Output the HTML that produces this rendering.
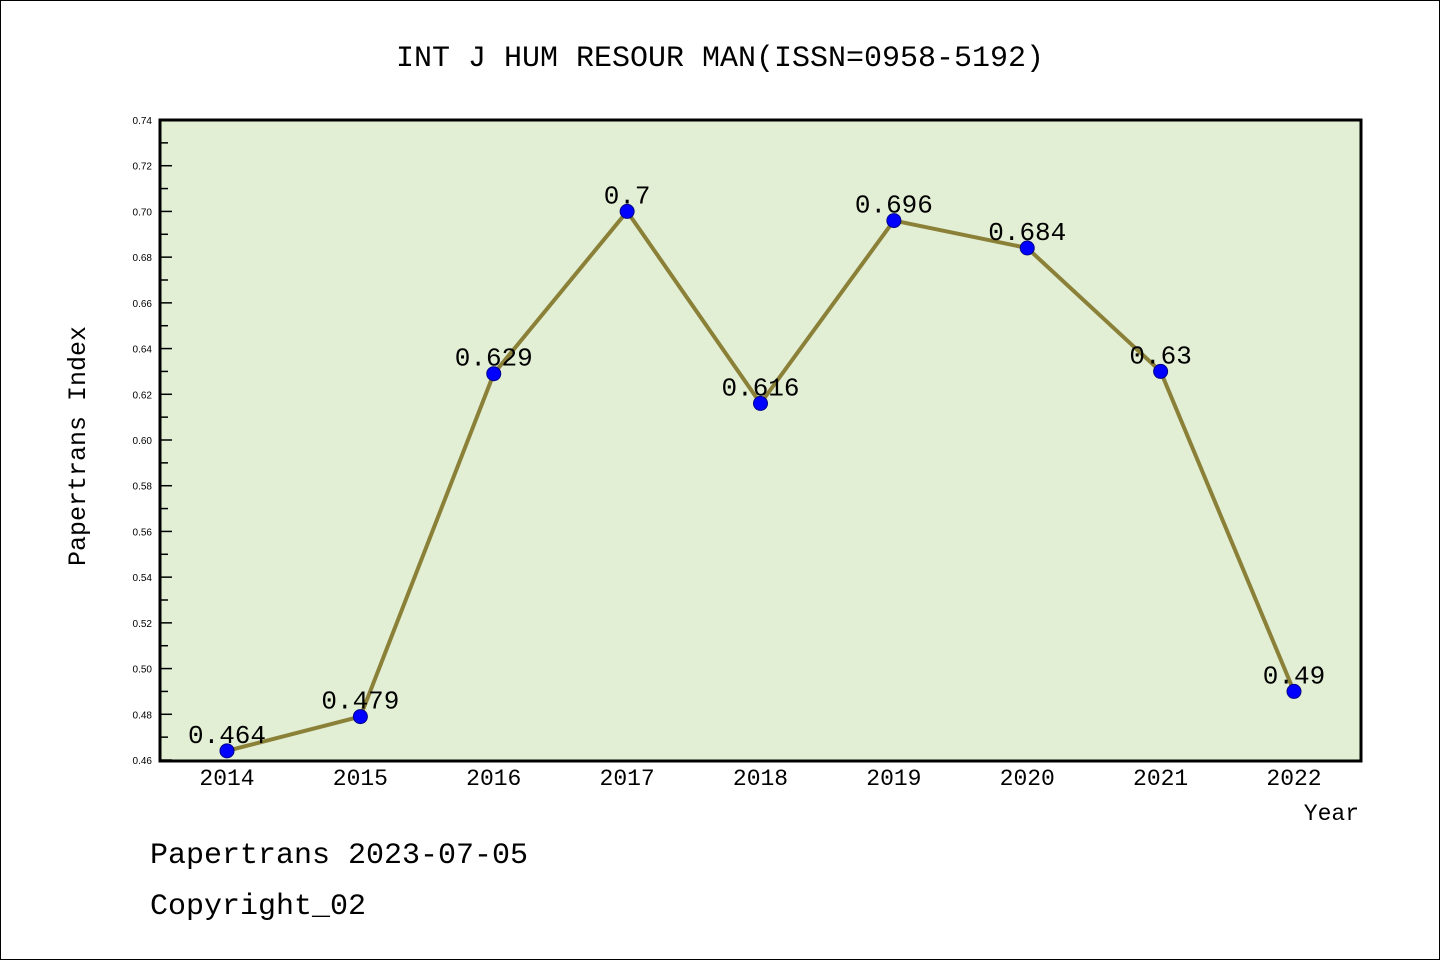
<!DOCTYPE html>
<html><head><meta charset="utf-8"><style>
html,body{margin:0;padding:0;background:#fff;}
svg{display:block;}
</style></head><body>
<svg id="chart" width="1440" height="960" xmlns="http://www.w3.org/2000/svg">
<rect x="0.5" y="0.5" width="1439" height="959" fill="#fff" stroke="#000" stroke-width="1"/>
<text x="720" y="66" text-anchor="middle" font-family="'Liberation Mono','WenQuanYi Zen Hei',monospace" font-size="30" fill="#000">INT J HUM RESOUR MAN(ISSN=0958-5192)</text>
<rect x="160" y="120" width="1201" height="641" fill="#e2efd4"/>
<g id="yaxis"></g>
<g id="xaxis"></g>
<g id="series"></g>
<rect x="160" y="120" width="1201" height="641" fill="none" stroke="#000" stroke-width="3"/>
<text transform="translate(85,446) rotate(-90)" text-anchor="middle" font-family="'Liberation Mono','WenQuanYi Zen Hei',monospace" font-size="25" fill="#000">Papertrans Index</text>
<text x="1359" y="820" text-anchor="end" font-family="'Liberation Mono','WenQuanYi Zen Hei',monospace" font-size="23" fill="#000">Year</text>
<text x="150" y="863" font-family="'Liberation Mono','WenQuanYi Zen Hei',monospace" font-size="30" fill="#000">Papertrans 2023-07-05</text>
<text x="150" y="914" font-family="'Liberation Mono','WenQuanYi Zen Hei',monospace" font-size="30" fill="#000">Copyright_02</text>
</svg>
<script>
const years = ['2014','2015','2016','2017','2018','2019','2020','2021','2022'];
const values = [0.464,0.479,0.629,0.7,0.616,0.696,0.684,0.63,0.49];
const valueLabels = ['0.464','0.479','0.629','0.7','0.616','0.696','0.684','0.63','0.49'];
const yTicks = ['0.46','0.48','0.50','0.52','0.54','0.56','0.58','0.60','0.62','0.64','0.66','0.68','0.70','0.72','0.74'];

const NS='http://www.w3.org/2000/svg';
const yMin=0.46,yMax=0.74,plotTop=120,plotBottom=760;
function yScale(v){return plotBottom-(v-yMin)/(yMax-yMin)*(plotBottom-plotTop);}
function xScale(i){return 227+i*(1294-227)/(years.length-1);}
function mk(tag,attrs,parent){const e=document.createElementNS(NS,tag);for(const k in attrs)e.setAttribute(k,attrs[k]);parent.appendChild(e);return e;}

const ya=document.getElementById('yaxis');
yTicks.forEach((t,i)=>{
  const v=parseFloat(t),y=yScale(v);
  const l=mk('line',{x1:160,x2:172,y1:y,y2:y,stroke:'#000','stroke-width':1.5},ya);
  
  
  const tx=mk('text',{x:152,y:y+4,'text-anchor':'end','font-family':"'Liberation Sans',sans-serif",'font-size':10,fill:'#000'},ya);
  tx.textContent=t;
  
  
  if(i<yTicks.length-1){
    const ym=yScale(v+0.01);
    const m=mk('line',{x1:160,x2:168,y1:ym,y2:ym,stroke:'#000','stroke-width':1.5},ya);
    
    
  }
});
const xa=document.getElementById('xaxis');
years.forEach((yr,i)=>{
  const tx=mk('text',{x:xScale(i),y:785,'text-anchor':'middle','font-family':"'Liberation Mono','WenQuanYi Zen Hei',monospace",'font-size':23,fill:'#000'},xa);
  tx.textContent=yr;
  
  
});
const s=document.getElementById('series');
const pts=values.map((v,i)=>xScale(i)+','+yScale(v)).join(' ');
const pl=mk('polyline',{points:pts,fill:'none',stroke:'#8b8038','stroke-width':4,'stroke-linejoin':'round'},s);


values.forEach((v,i)=>{
  const c=mk('circle',{cx:xScale(i),cy:yScale(v),r:7,fill:'#0000ff',stroke:'#00008b','stroke-width':1},s);
  
  
  const t=mk('text',{x:xScale(i),y:yScale(v)-8,'text-anchor':'middle','font-family':"'Liberation Mono','WenQuanYi Zen Hei',monospace",'font-size':26,fill:'#000'},s);
  t.textContent=valueLabels[i];
  
  
});
</script>
</body></html>
